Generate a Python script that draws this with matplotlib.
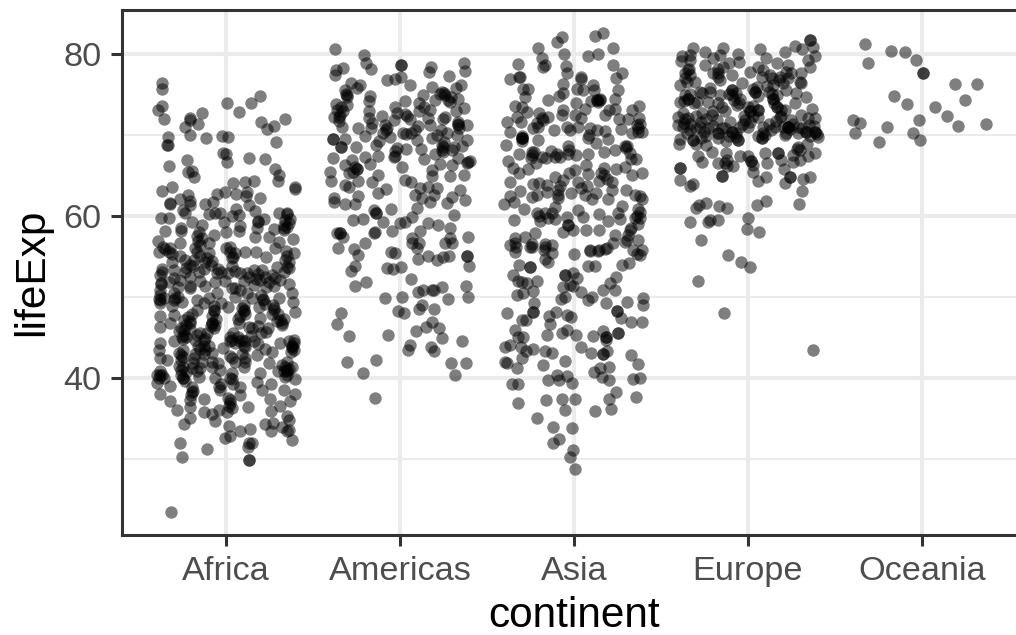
import matplotlib
matplotlib.use("Agg")
import matplotlib.pyplot as plt

categories = ["Africa", "Americas", "Asia", "Europe", "Oceania"]
y_ticks = [40, 60, 80]
y_minor = [30, 50, 70]

# (horizontal jitter around the category, lifeExp)
africa = [(-.368,76.46),(-.368,75.72),(-.368,73.6),(-.395,73.05),(-.358,71.94),(-.207,72.06),(-.207,71.9),(-.142,72.76),(-.165,71.3),(-.239,71.0),(-.211,70.0),(-.117,69.6),(-.333,69.8),(-.341,68.7),(-.337,68.7),(.006,74.0),(.073,72.84),(.144,73.9),(.192,74.8),(.201,71.56),(.234,70.74),(.276,71.15),(.335,71.98),(.287,69.18),(-.025,69.9),(.008,69.7),(-.019,67.74),(0,67.6),(.006,66.67),(.128,67.2),(.224,67.04),(.282,65.8),(.305,65.06),(.297,64.36),(.393,63.6),(.397,63.33),(-.331,66.2),(-.224,66.9),(-.22,65.4),(-.197,65.56),(-.188,64.86),(-.372,63.05),(-.312,63.6),(.036,64.03),(.109,64.16),(.159,64.28),(-.01,62.96),(-.054,62.67),(.056,62.67),(.119,63.0),(.111,62.4),(.195,62.26),(.128,61.36),(.167,60.66),(-.121,61.5),(-.077,61.7),(-.22,62.6),(-.268,62.1),(-.326,61.44),(-.322,61.56),(-.207,61.8),(-.207,61.36),(-.249,60.74),(-.236,60.33),(-.375,59.75),(-.331,59.8),(-.197,59.3),(-.101,60.25),(-.063,60.4),(-.034,60.4),(.056,60.8),(.033,60),(.071,60.1),(.301,60.4),(.349,60.4),(.349,60.3),(.368,59.6),(.218,59.6),(.18,59.4),(.18,59.2),(-.015,59.2),(.08,58.8),(.073,58.2),(.176,58.5),(.167,57.45),(.243,57.45),(.276,58.4),(.33,58.56),(.358,59.1),(.33,58.3),(.381,57.2),(.301,56.75),(.282,56.1),(.343,55.7),(.387,55.4),(0,58),(-.352,58.15),(-.261,58.5),(-.261,58.1),(-.264,56.7),(-.393,56.9),(-.364,56.2),(-.322,56),(-.39,55.6),(-.159,58.05),(-.169,57.5),(-.14,58.9),(-.069,57.66),(-.102,56.7),(-.153,56.4),(0,56),(.023,55.5),(.052,55.4),(.033,54.76),(.109,55.6),(.17,55.5),(.23,54.9),(-.188,54.6),(-.236,54.6),(-.082,54.45),(-.111,54.75),(-.312,54.3),(-.372,53.1),(.349,53.75),(.358,53.55),(.289,53.75),(.157,53.3),(.205,53.3),(.08,52.9),(.008,52.9),(-.159,53.1),(-.236,53.1),(-.303,53.3),(-.264,55),(-.054,52.9),(-.207,52.5),(.119,52.9),(.262,52.7),(.195,52.1),(.243,51.8),(.362,51.6),(-.063,51.9),(-.375,51.6),(-.264,52.1),(-.207,51.3),(.033,51.1),(.157,51.5),(.272,51.3),
(-.375,51.7),(-.379,50.25),(-.379,49.2),(-.293,49.84),(-.257,49.4),(-.207,51.07),(-.169,49.6),(-.054,50.45),(.052,51.07),(.052,50.04),(.21,49.6),(.376,50.45),(.381,49.4),(.395,48.1),(.272,48.4),(.301,49.84),(.1,48.2),(-.073,48.2),(-.169,48.4),(-.379,47.6),(-.379,46.34),(-.322,46.75),(-.207,46.75),(-.245,45.3),(-.082,46.75),(-.073,46.1),(.071,46.75),(.195,47.37),(.32,46.55),(.226,45.7),(.128,46.34),(.023,45.1),(.09,44.7),(-.131,44.7),(-.178,44.7),(-.303,44.5),(-.383,44.3),(-.389,43.45),(.387,44.3),(.377,43.66),(.31,44.3),(.176,42.84),(.262,43.25),(.157,44.5),(.109,43.87),(-.082,43.05),(-.251,42.63),(-.188,42.43),(-.121,43.45),(-.341,42.2),(-.379,42.43),(.033,42.43),(.109,42.0),(.247,41.8),(.349,42),(.377,41.4),(-.082,42),(-.26,41),(-.251,39.96),(-.379,40.37),(-.398,40.4),(-.37,40.37),(.033,39.9),(-.034,41),(-.159,40.17),(-.063,39.96),(.195,40.6),(.349,40.8),(.339,40.17),(.397,39.9),(-.398,39.34),(-.322,39),(-.197,38.3),(-.034,38.5),(.08,38.93),(.08,37.9),(.176,39.55),(.205,38.5),(.259,39.26),(.33,38.5),(.397,37.98),(-.379,37.98),(-.207,37.3),(-.131,37.37),(-.322,37.16),(-.283,36.05),(-.207,36.46),(.023,36.87),(.013,36.54),(.253,37.37),(.368,37.2),(.308,36.54),(.124,36.38),(.259,35.93),(-.131,35.85),(-.082,35.5),(-.044,36.05),(-.063,34.7),(.004,35.85),(-.207,35.02),(-.241,34.3),(.349,35.35),(.358,34.8),(.22,34.32),(.266,34.4),(.259,33.5),(.32,33.9),(.349,33.4),(.358,33.6),(.013,34.08),(.08,33.5),(.138,33.66),(-.006,32.63),(.023,32.84),(.376,32.35),(-.268,31.94),(-.111,31.2),(-.255,30.2),(.128,31.94),(.148,31.94),(.123,31.5),(.128,29.9),(.128,29.9),(-.32,23.46),
(-.245,45.9),(-.207,47.0),(-.257,45.1),(-.232,46.5),(.1,48.4),(.08,44.5),(.377,43.9),(.387,44.7),(.349,41.0),(-.26,42.8),(-.251,40.0),(-.073,48.4),(-.082,46.8),(.033,44.7),(-.379,49.6),(-.303,49.6),(.21,49.8),(.272,48.6),(.32,46.8),(-.15,45.5),(-.13,44.0),(-.3,47.8),(-.1,43.9),(.14,45.2),(.22,43.6),(.29,47.0),(-.02,43.7),(-.2,41.2),(-.14,42.0),(.3,40.9),(.18,46.4),(-.17,40.9),(.01,48.7),
(-.245,47.2),(-.22,47.5),(-.26,46.2),(-.23,45.0),(-.25,44.8),(-.21,46.0),(-.2,47.9),(-.27,45.8),(-.07,48.9),(-.08,47.7),(-.06,47.3),(-.09,46.4),(-.065,46.5),(.1,49.0),(.09,48.6),(.08,47.6),(.11,47.9),(.07,47.3),(.02,44.6),(.05,44.3),(.07,45.0),(.1,44.0),(.04,45.5),(.11,44.5),(.38,44.0),(.37,43.2),(.39,43.4),(.36,44.6),(.36,41.1),(.34,41.3),(.35,40.4),(.33,40.8),(.32,41.6),(-.27,43.1),(-.25,43.4),(-.26,42.2),(-.27,41.5),(-.25,41.3),(-.26,40.4),(-.24,39.6),(-.23,40.7),(-.38,40.9),(-.36,40.0),(-.39,40.0),(-.2,38.9),(-.205,37.9),(-.19,38.4),(.02,37.3),(.03,36.3),(.01,37.5),(-.04,38.9),(-.03,39.3),(.03,40.6),(.04,39.3),(.02,40.0),(.02,42.7),(.05,42.0),(.09,42.9),(.11,42.5),(.1,41.4),(-.38,50.8),(-.36,49.9),(-.39,49.7),(-.3,50.5),(-.28,50.0),(-.31,48.9),(.2,50.2),(.22,49.1),(.19,48.8),(.27,49.0),(.26,47.9),(.3,47.9),(.33,47.3),(.31,47.1),(.24,46.1),(.2,45.5),(.18,44.2),(.15,46.2),
(-.17,45.3),(-.16,44.0),(-.12,44.9),(-.15,43.6),(-.13,42.9),(-.11,45.5),(-.18,42.9),(-.19,41.8),(-.15,41.2),(-.08,41.4),(-.05,41.9),
(-.14,57.3),(-.16,56.9),(-.18,56.0),(-.17,55.5),(-.15,55.0),(-.12,54.3),(-.1,55.4),(-.09,54.0),(-.19,53.8),(-.21,54.0),(-.23,53.6),(-.13,53.4),(-.05,53.5),(-.03,53.1),(-.01,52.0),(.03,53.8),(.05,53.2),(.04,54.9),(.02,56.2),(.1,52.0),(.13,52.4),(.17,52.2),(.18,52.8),(.22,52.4),(.23,51.2),(.28,52.3),(.31,52.1),(.33,53.1),(.34,54.5),(.36,54.3),(.35,55),(.33,58.9),(.35,58.6),(.34,59.5),(-.33,55.6),(-.31,55.3),(-.35,55.9),(-.37,53.5),(-.38,52.7),(-.33,51.9),(-.3,52.3),(-.15,52),(-.12,51.4),(-.28,51.2),(.08,50.8),(.12,50.5),(.15,49.9),(-.13,49.3),(-.1,49.9),(-.03,49.3)]

americas = [(-.377,80.66),(-.207,79.87),(-.195,78.84),(-.167,78.1),(-.326,78.31),(-.368,78.02),(-.374,77.4),(.006,78.64),(.006,78.64),(.176,78.35),(.167,77.82),(.366,78.84),(.374,77.94),(.282,77.28),(-.077,76.79),(-.029,76.87),(.002,77.2),(.056,76.2),(-.23,76.17),(-.282,76.38),(-.249,75.76),(-.307,74.94),(-.307,74.73),(-.316,75.55),(-.37,73.8),(-.364,73.08),(-.303,73.7),(-.174,74.85),(-.178,74.2),(-.178,72.9),(-.182,72.05),(-.105,72.34),(-.383,72.2),(-.354,72.26),(-.335,71.03),(-.345,72.47),(-.245,70.86),(-.169,70.82),(-.205,69.9),(-.029,73.5),(.025,74.2),(-.019,72.67),(-.033,71.85),(.038,72.34),(.057,71.93),(-.077,70.82),(-.096,70.2),(-.057,69.71),(.019,70.2),(.033,70.08),(.086,70.6),(.096,69.38),(.134,74.94),(.182,75.9),(.111,73.99),(.109,72.9),(.163,72.05),(.172,73.08),(.172,71.23),(.24,75.26),(.25,75.14),(.287,74.11),(.278,74.3),(.201,74.3),(.322,75.76),(.351,76.17),(.335,74.5),(.37,73.29),(.32,72.9),(.245,71.97),(.259,72.26),(.335,71.31),(.335,71.23),(.387,71.23),(.236,70.6),(.211,70.0),(.239,68.76),(.249,68.56),(.249,67.94),(.182,69.6),(.326,70),(.387,69.38),(.354,68.64),(.312,68.56),(-.389,69.5),(-.389,69.5),(-.32,69.5),(-.339,68.5),(-.339,68.5),(-.255,68.5),(-.14,68.76),(-.019,68.43),(.033,68.27),(.119,68.27),(-.125,67.45),(-.201,67.24),(-.029,67.4),(-.038,67.32),(.138,67.03),(.201,67.65),(-.387,67.1),(-.316,66.3),(-.249,65.76),(-.249,65.76),(-.297,65.27),(-.278,66.9),(-.172,66.38),(.01,66.09),(.23,66.38),(.335,67.1),(.297,66.3),(.393,66.7),(.383,66.5),(.182,65.68),(.186,64.98),(-.402,65.39),(-.396,64.32),(-.241,64.32),(-.13,65.06),(-.163,64.15),(.287,64.98),(.37,65.1),(.029,64.44),(.063,64.24),(-.32,63.8),(-.297,63.62),(-.082,63.29),(-.125,62.8),(.115,63.41),(.163,63.62),(.211,63.41),(.086,62.59),(.192,62.59),(.172,61.77),(.125,62.18),(.345,63.21),(.297,62.38),(.374,61.97),(.268,61.56),(-.383,62.18),(-.383,61.77),(-.245,62.51),(-.316,61.48),(-.262,61.48),(-.148,60.74),(-.138,60.33),(-.138,60.33),(-.052,60.86),(.096,60.94),(.31,60.12),
(-.274,59.5),(-.216,59.63),(-.096,59.3),(-.144,58.07),(-.148,57.9),(0,59.1),(.029,59.3),(.071,59.9),(-.048,58.2),(.115,58.2),(.159,59.18),(.216,58.89),(.287,58.48),(.284,57.24),(.259,56.63),(.297,56.63),(.391,57.45),(.067,57.24),(.071,56.63),(.109,56.63),(.096,56),(-.364,57.86),(-.345,57.94),(-.345,57.94),(-.326,57.45),(-.358,56.05),(-.201,56.7),(-.268,55.88),(-.245,55.2),(-.054,55.6),(-.029,55.47),(.105,54.69),(.163,55.1),(.211,54.57),(.249,54.98),(.282,55.1),(.387,55.1),(.387,55.1),(.397,53.83),(-.262,53.87),(-.282,53.25),(-.077,53.62),(-.044,53.41),(.006,53.66),(.061,52.22),(-.262,51.4),(-.197,51.81),(.102,50.66),(.134,50.82),(.186,50.82),(.197,50.82),(.243,51.27),(.379,51.4),(.278,49.75),(.393,49.96),(-.088,49.83),(.01,49.96),(.125,49.01),(.109,48.48),(.192,48.56),(-.013,48.31),(.023,47.98),(-.339,47.98),(-.364,46.63),(.186,46.87),(.148,46.25),(.224,46.21),(.092,45.84),(-.297,45.18),(-.069,45.31),(.243,44.9),(.356,44.57),(.054,44.07),(.044,43.46),(.176,43.87),(.193,43.33),(-.303,41.93),(-.14,42.22),(-.216,40.58),(.291,41.81),(.381,41.81),(.318,40.33),(-.142,37.49),
(.23,75.1),(.26,74.9),(.29,74.7),(.24,68.2),(.25,69.1),(-.08,70.6),(-.09,71.2),(-.34,73.5),(-.33,72.9),(-.35,71.7),(.33,71.6),(.34,70.9),(-.26,66.0),(-.27,65.4),(.03,72.6),(.06,70.3),(.1,71.1),(.14,73.4),(.27,70.2),(-.16,71.5),(-.31,75.0),(.3,68.2),(-.12,69.2),(.4,66.8),(-.03,68.0)]

asia = [(.169,82.64),(.121,82.27),(-.071,82.06),(-.1,81.53),(-.205,80.78),(.222,80.7),(-.057,80),(.082,79.76),(.138,80.04),(-.186,79.47),(-.322,78.8),(-.167,78.64),(-.176,78.36),(-.046,78.5),(.224,78.7),(-.042,77.6),(.278,77.7),(.241,77),(-.368,76.9),(-.314,77.1),(-.31,77.1),(.038,77.1),(.038,76.87),(-.061,76.3),(.107,76.2),(-.295,75.64),(-.262,75.64),(-.065,75.15),(-.084,74.8),(.015,75.64),(.054,75.56),(.115,75.5),(.253,75.5),(.238,74.5),(-.28,74.65),(-.151,74.3),(.011,73.9),(.13,74.3),(.13,74.3),(.149,74.3),(.098,74.24),(-.339,73.6),(-.301,73.4),(.372,73.6),(.335,73.1),(.063,73.2),(-.065,73.1),(.2,73.1),(.236,73.2),(-.272,72.8),(-.199,72.68),(-.186,72.06),(-.148,72.2),(-.071,72.47),(.006,72.47),(.038,72.06),(.178,72.47),(-.33,72.26),(-.387,71.65),(-.305,71.65),(.257,71.98),(.374,72.14),(.312,71.94),(.36,71.24),(.389,70.41),(.37,70.41),(.27,70.7),(-.234,70.9),(-.205,71),(-.113,70.6),(-.042,71),(-.023,70.6),(.025,71),(.092,70.8),(.134,70.6),(.178,70.5),(-.368,70.4),(-.299,69.6),(-.299,69.6),(-.299,69.6),(-.209,69.4),(.086,70),(.082,69.6),(.193,69.47),(.331,70.2),(-.393,68.77),(-.316,67.66),(-.243,67.94),(-.243,67.53),(-.186,67.33),(-.132,68.07),(-.036,68.64),(-.033,67.6),(-.109,67.25),(-.08,67.33),(.011,67.53),(.079,67.66),(.126,68.97),(.174,67.94),(.236,68.15),(.293,68.69),(.303,68.64),(.322,67.74),(.354,67),(-.377,66.75),(-.349,65.9),(-.314,65.35),(-.262,65.76),(-.22,66.5),(.069,66.3),(.239,65.8),(.293,66),(.174,65.9),(.006,65.68),(.393,65.27),(-.368,64.24),(-.109,64.86),(-.027,65.27),(.079,65.19),(.153,65.27),(.025,64.16),(.142,64.32),(.216,64.24),(.331,65),(-.234,63.9),(-.199,64.03),(-.153,63.83),(-.09,63.2),(-.061,64.45),(.073,63.75),(-.312,63.13),(-.153,62.93),(-.017,62.88),(.216,63.2),(.299,63.2),(-.211,62.6),(-.243,62.39),(-.368,62.5),(-.345,61.7),(-.4,61.44),(-.285,60.9),(-.094,62.18),(.063,62.6),(.102,62.06),(.126,62.8),(.193,62.06),(.351,62.6),(.389,62.06),(.274,61.24),(-.109,61.15),(-.211,60.33),(-.167,60.41),(-.128,60.33),(-.109,59.63),(-.195,59.39),(-.343,59.5),(-.038,59.9),(.025,60.74),(.054,59.9),(.144,60.29),(.197,59.43),(.264,59.6),(.255,60.33),(.379,60.54),(.351,59.8),(.379,59.7),(-.036,58.9),(-.036,58.9),(.067,58.27),(.144,58.27),(-.061,58.07),(-.004,58.27),(.37,59.0),(.322,58.27),(-.224,57.86),(.236,57.66),(-.28,57.45),(-.339,57.25),(-.167,56.55),(-.128,56.42),(-.243,56.2),(.092,55.8),(.142,55.8),(.188,56),(.303,57),(.37,57),(-.368,56.4),(-.333,56.2),
(.002,55.27),(.092,55.72),(.14,55.72),(.178,55.89),(.226,56.63),(.293,56.83),(.341,55.8),(.389,55.8),(.379,55.19),(-.339,55.6),(-.167,56.2),(-.128,55.48),(-.167,54.65),(-.148,54.37),(-.253,56.2),(.082,53.83),(.121,53.83),(.278,53.95),(.316,54.16),(-.314,53.95),(-.253,53.67),(-.253,53.67),(-.349,52.72),(-.32,52.02),(-.297,51.9),(-.272,51.69),(-.215,52.02),(-.234,50.74),(-.33,50.25),(-.295,50.46),(-.052,52.72),(-.052,52.72),(-.004,52.93),(.015,52.39),(-.061,51.28),(-.023,51.48),(-.004,51.4),(.038,50.66),(-.052,49.96),(-.077,49.7),(.082,49.63),(.102,50.05),(.241,52.51),(.207,51.69),(.169,50.87),(.236,50.87),(.184,49.3),(.307,49.35),(.397,49.84),(.397,49.02),(-.23,49.22),(-.234,48.19),(-.234,48.19),(-.385,48.07),(-.103,48.19),(-.144,47.7),(-.136,46.67),(-.042,47.78),(-.017,47.58),(.245,48.3),(.245,48.3),(.268,47.37),(.33,46.87),(.393,46.9),(-.297,47.16),(-.276,47.16),(-.339,45.93),(-.32,45.1),(-.295,45.1),(-.157,45.31),(-.071,45.6),(-.038,45.93),(.013,45.31),(.107,45.23),(.169,45.85),(.182,45.1),(.182,45.1),(.182,44.7),(.255,45.5),(.255,45.5),(.04,43.87),(-.368,44.08),(-.397,43.79),(-.305,43.87),(-.278,43.3),(-.234,43.54),(-.299,42.43),(-.167,43.34),(-.125,43.05),(.096,43.13),(.169,42.97),(.169,42.97),(.188,43.38),(.33,42.8),(-.397,42.02),(-.383,41.9),(-.328,41.28),(-.052,42.14),(-.18,41.57),(.368,41.69),(.199,41.4),(.149,41.2),(.115,40.7),(.159,40.17),(.201,39.76),(-.096,40.37),(-.148,39.76),(-.086,39.76),(-.038,40.29),(-.01,39.34),(-.355,39.26),(-.32,39.26),(.339,39.84),(.379,40),(.241,38.3),(.199,37.41),(.358,37.62),(.006,37.45),(-.069,37.37),(-.159,37.29),(-.322,36.88),(-.05,36.05),(.119,35.97),(.215,36.2),(-.215,35.1),(-.011,33.87),(-.121,33.91),(-.084,32.47),(-.121,31.9),(-.004,31.1),(-.023,30.2),(.006,28.7),
(.14,74.1),(.15,74.5),(-.3,69.9),(-.3,69.3),(-.25,67.2),(-.23,67.9),(.37,60.9),(.36,60.0),(.38,62.5),(.33,58.5),(.31,57.6),(-.34,56.7),(.3,68.4),(.33,67.0),(-.16,67.2),(-.1,67.7),(-.03,68.1),(.04,63.5),(-.09,62.6),(-.08,63.7),(.17,65.0),(.19,64.6),(-.2,60.0),(-.15,59.8),(.37,70.9),(.38,71.3),(-.18,71.9),(-.21,71.5),(-.24,56.5),(-.17,55.8),(.36,55.3)]

europe = [(.375,43.5),(-.14,48.0),(-.284,52.0),(-.117,55.2),(-.042,54.3),(.013,53.75),(-.268,57.0),(-.333,59.3),(-.23,59.2),(-.218,59.5),(-.17,59.5),(.002,59.8),(-.004,58.4),(.065,58.0),(-.299,61.0),(-.28,61.3),(-.241,61.65),(-.165,61.2),(-.121,61.0),(.054,61.4),(.102,61.9),(.297,61.5),(.312,63.05),(.316,64.5),(.36,64.8),(.215,64.1),(.243,64.8),(.107,64.85),(.057,64.3),(-.149,64.9),(-.391,64.4),(-.333,63.75),(-.314,64.0),(-.388,65.9),(-.388,65.9),
(.36,81.7),(.36,81.7),(.375,80.9),(.27,81.0),(.314,80.6),(.389,79.7),(.347,79.3),(.36,78.35),(.213,80.3),(.069,80.6),(-.142,80.7),(-.247,80.2),(-.316,80.7),(-.381,79.7),(-.387,79.1),(-.33,79.9),(-.33,79.2),(-.337,78.2),(-.247,78.6),(-.199,79.5),(-.161,79.9),(-.059,79.95),(-.05,78.95),(-.107,78.85),(-.17,78.2),(-.17,77.6),(-.142,78.45),(-.199,77.6),
(-.362,77.6),(-.343,78),(-.391,76.17),(-.305,76.6),(-.362,77),(-.218,75.76),(-.218,75.35),(-.276,75.35),(-.161,74.94),(-.094,77.4),(-.036,76.4),(.011,77.8),(.059,78.43),(.107,79.46),(.165,78.85),(.232,78.64),(.222,77.8),(.184,77.2),(.146,76.17),(.126,77.4),(.079,77.2),(.303,77.6),(.299,76.6),(.308,76.4),(.222,75.55),(.276,75.14),(.333,74.7),(.27,73.9),(-.094,75.55),(-.094,75.55),(-.094,74.94),(-.046,74.5),(-.065,73.7),(.044,75.35),(.044,75.35),(.05,75.96),(-.343,74.5),(-.343,74.5),(-.362,74.94),(-.391,74.1),(-.295,74.1),(-.266,75.14),(-.228,74.1),(-.151,73.5),(.011,72.9),(.011,72.9),(.059,73.1),(.059,73.1),(-.017,71.85),(.002,71),(.146,74.5),(.146,74.5),(.165,73.5),(.165,73.5),(.213,73.1),(.184,72.26),(.232,71),(.232,71),(.232,71),(.251,71.85),(.308,72.47),(.37,73.17),(.387,72.05),(.347,72.05),(-.372,72.67),(-.4,72.26),(-.343,72.05),(-.266,72.67),(-.209,72.47),(-.276,71),(-.228,70.8),(-.372,71),(-.333,70.6),(-.4,71.23),(-.17,70.2),(-.17,70.2),(-.094,70.4),(-.094,70.4),(-.046,71),(-.103,71.6),(-.056,69.4),(-.056,69.4),(-.123,69.2),(-.17,69.6),(.079,69.6),(.079,69.6),(.088,71),(.136,70.6),(.155,71),(.213,70),(.337,70.4),(.337,70.4),(.385,70.4),(.385,70.4),(.404,69.8),(.289,71),(-.391,69.5),(-.397,68.9),(-.314,69.4),(-.314,69.4),(-.238,68.76),(-.205,67.94),(-.285,67.45),(-.266,66.7),(-.123,67.73),(-.119,66.9),(-.17,66.5),(-.084,66.17),(-.149,64.94),(-.046,67.4),(.002,67.4),(.021,66.83),(.021,66.83),(.098,67.73),(.111,66.5),(.031,65.47),(.172,67.73),(.172,67.73),(.193,66.9),(.207,65.76),(.245,64.8),(.261,67.5),(.289,68.56),(.28,68.23),(.347,67.4),(.385,67.73),(.299,66.9),
(-.33,71.3),(-.3,70.8),(-.27,71.6),(-.25,70.4),(-.2,71.1),(-.15,70.8),(-.13,70.9),(-.11,69.9),(-.07,70.3),(-.03,71.4),(.01,71.6),(.03,72.4),(.0,73.4),(.03,73.6),(.06,72.2),(-.02,72.4),(.1,70.0),(.06,69.9),(.09,70.3),(.12,71.4),(.16,71.7),(.19,72.3),(.2,71.0),(.22,70.2),(.24,70.7),(.26,71.3),(.29,70.2),(.31,70.8),(.35,71.2),(.36,69.9),(.38,71.1),(.4,70.1),(.15,73.9),(.17,74.9),(.19,73.1),(.12,75.3),(.14,75.0),(-.11,75.1),(-.08,74.3),(-.07,75.2),(-.05,74.0),(.06,74.8),(.03,75.7),(-.37,74.2),(-.33,75.0),(-.31,73.9),(-.36,72.0),(-.37,71.5),(-.35,70.3),(-.3,72.3),(-.24,72.0),(-.24,69.9),(-.18,71.9),(-.13,72.9),(-.17,74.0),(-.2,73.0),(-.27,69.6),(-.3,68.9),(.2,76.4),(.23,77.0),(.25,77.6),(.18,76.8),(.14,77.0),(.11,76.1),(.09,78),(-.35,76.6),(-.33,77.4),(-.16,76.8),(-.17,77.1),(.34,68.9),(.3,68.2),(.26,66.7),(.03,66.3),(-.12,66.2),(-.13,66.5),(-.07,69.8)]

oceania = [(-.324,81.2),(-.174,80.4),(-.096,80.25),(-.031,79.2),(-.306,78.85),(.01,77.6),(.01,77.6),(.19,76.3),(.318,76.3),(-.159,74.8),(-.082,73.8),(.077,73.5),(.251,74.3),(.144,72.3),(-.015,71.9),(.209,71.1),(.368,71.3),(-.395,71.9),(-.356,71.5),(-.197,70.95),(-.381,70.25),(-.052,70.3),(-.007,69.4),(-.243,69.1)]

plt.rcParams["font.family"] = ["Liberation Sans", "DejaVu Sans"]
W, H = 1016, 635
fig = plt.figure(figsize=(W / 100, H / 100), dpi=100, facecolor="white")
left, right, top, bottom = 122, 1026, 10, 535
ax = fig.add_axes([left / W, 1 - bottom / H, (right - left) / W, (bottom - top) / H])

ax.set_axisbelow(True)
for i, pts in enumerate([africa, americas, asia, europe, oceania]):
    xs = [i + 1 + p[0] for p in pts]
    ys = [p[1] for p in pts]
    ax.scatter(xs, ys, s=80, c="black", alpha=0.5, linewidths=0, zorder=3)

ax.set_xlim(0.4, 5.6)
ax.set_ylim(20.6, 85.43)
ax.set_xticks(range(1, 6), categories)
ax.set_yticks(y_ticks)
ax.set_yticks(y_minor, minor=True)
ax.grid(True, which="major", color="#EBEBEB", linewidth=2.9)
ax.grid(True, which="minor", axis="y", color="#EBEBEB", linewidth=1.45)
ax.tick_params(which="minor", length=0)
ax.tick_params(axis="both", which="major", length=8, width=2.2, color="#333333",
               labelcolor="#4D4D4D", labelsize=24.7, pad=6.8)
for s in ax.spines.values():
    s.set_color("#333333")
    s.set_linewidth(2.2)
ax.set_xlabel("continent", fontsize=30.5, color="black", labelpad=7)
ax.set_ylabel("lifeExp", fontsize=30.5, color="black", labelpad=8)
fig.savefig("out.png", dpi=100)
